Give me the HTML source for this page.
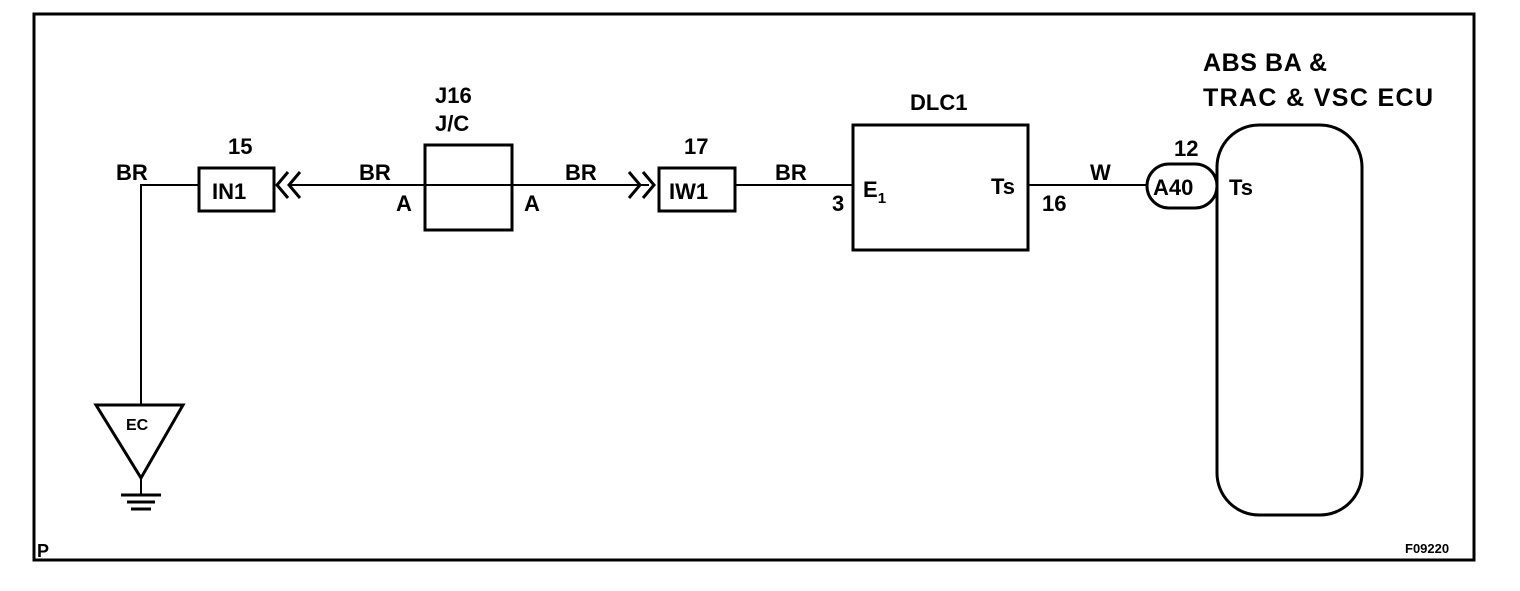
<!DOCTYPE html>
<html><head><style>
body{margin:0;background:#fff}
svg text{font-family:"Liberation Sans",Arial,sans-serif;fill:#000;font-weight:bold}
</style></head><body>
<svg width="1520" height="586" viewBox="0 0 1520 586" xmlns="http://www.w3.org/2000/svg">
<g fill="none" stroke="#000">
<rect x="34" y="14" width="1440" height="546" stroke-width="3"/>
<polyline points="199,185 141,185 141,405" stroke-width="2"/>
<rect x="199" y="168" width="75" height="43" stroke-width="3"/>
<polyline points="288,172 277,185 288,198" stroke-width="3"/>
<polyline points="300,172 289,185 300,198" stroke-width="3"/>
<line x1="290" y1="185" x2="649" y2="185" stroke-width="2"/>
<rect x="425" y="145" width="87" height="85" stroke-width="3"/>
<polyline points="629,172 640,185 629,198" stroke-width="3"/>
<polyline points="643,172 654,185 643,198" stroke-width="3"/>
<rect x="659" y="168" width="76" height="43" stroke-width="3"/>
<line x1="735" y1="185" x2="853" y2="185" stroke-width="2"/>
<rect x="853" y="125" width="175" height="125" stroke-width="3"/>
<line x1="1028" y1="185" x2="1147" y2="185" stroke-width="2"/>
<rect x="1147" y="164" width="70" height="44" rx="22" stroke-width="3"/>
<rect x="1217" y="125" width="145" height="390" rx="42" stroke-width="3"/>
<polygon points="96,405 183,405 141,478" stroke-width="3"/>
<line x1="141" y1="478" x2="141" y2="495" stroke-width="2"/>
<line x1="121" y1="495" x2="161" y2="495" stroke-width="3"/>
<line x1="127" y1="502" x2="155" y2="502" stroke-width="3"/>
<line x1="131" y1="509" x2="151" y2="509" stroke-width="3"/>
</g>
<g font-size="22">
<text x="116" y="180">BR</text>
<text x="228" y="154">15</text>
<text x="212" y="199">IN1</text>
<text x="359" y="180">BR</text>
<text x="396" y="211">A</text>
<text x="524" y="211">A</text>
<text x="565" y="180">BR</text>
<text x="435" y="103">J16</text>
<text x="435" y="131">J/C</text>
<text x="684" y="154">17</text>
<text x="669" y="199">IW1</text>
<text x="775" y="180">BR</text>
<text x="832" y="211">3</text>
<text x="863" y="197">E<tspan font-size="15" dy="6">1</tspan></text>
<text x="991" y="194">Ts</text>
<text x="1042" y="211">16</text>
<text x="1090" y="180">W</text>
<text x="1174" y="156">12</text>
<text x="1153" y="195">A40</text>
<text x="1229" y="195">Ts</text>
<text x="910" y="110">DLC1</text>
</g>
<g font-size="25">
<text x="1203" y="71" textLength="124">ABS BA &amp;</text>
<text x="1203" y="106" textLength="230">TRAC &amp; VSC ECU</text>
</g>
<text x="126" y="430" font-size="16">EC</text>
<text x="37" y="557" font-size="18">P</text>
<text x="1405" y="553" font-size="13">F09220</text>
</svg>
</body></html>
